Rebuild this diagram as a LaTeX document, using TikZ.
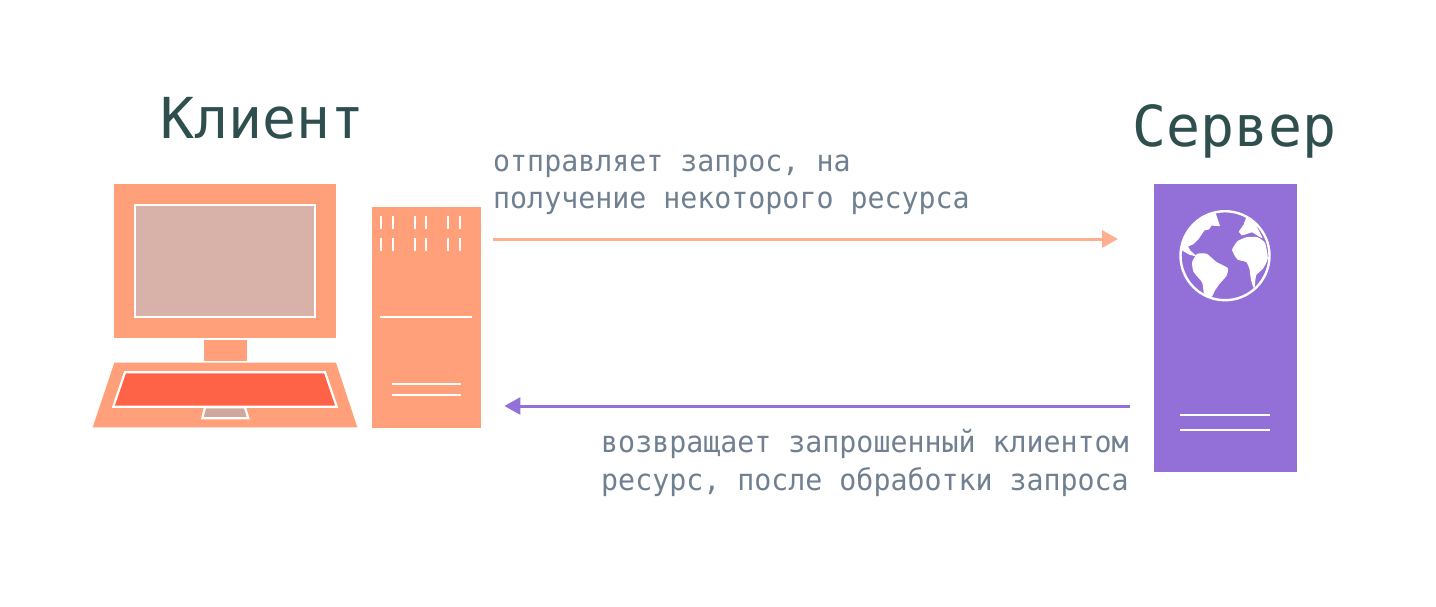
\documentclass[tikz,border=0pt]{standalone}
\usepackage{fontspec}
\setmainfont{DejaVu Sans Mono}
\newfontfamily\capfont[FakeStretch=0.955]{DejaVu Sans Mono}
\newfontfamily\headfont[FakeStretch=1.0]{DejaVu Sans Mono}
\usetikzlibrary{arrows.meta}
\definecolor{coral}{HTML}{FFA07A}
\definecolor{arrowc}{HTML}{FFAE90}
\definecolor{screenc}{HTML}{D8B1A8}
\definecolor{keysc}{HTML}{FF6347}
\definecolor{padc}{HTML}{CFA79D}
\definecolor{violet}{HTML}{9370D8}
\definecolor{label}{HTML}{708090}
\definecolor{head}{HTML}{2F4F4F}
\tikzset{
  x=1pt,y=-1pt,
  coralbox/.style={fill=coral,draw=none,rectangle,inner sep=0pt,anchor=north west},
  violetbox/.style={fill=violet,draw=none,rectangle,inner sep=0pt,anchor=north west},
  wline/.style={draw=white,line width=2.3pt},
  wedge/.style={draw=white,line width=2.2pt,line join=miter},
  heading/.style={text=head,inner sep=0pt,anchor=base west,font=\headfont\fontsize{56.5}{60}\selectfont},
  caption/.style={text=label,inner sep=0pt,font=\capfont\fontsize{29.6}{34}\selectfont},
  conn/.style={line width=3pt,-{Triangle[length=16pt,width=17pt]}},
  land/.style={fill=white,draw=white,line width=1pt,line join=round},
}
\begin{document}
\begin{tikzpicture}
\useasboundingbox (0,0) rectangle (1436,606);
% client monitor
\node[coralbox,minimum width=221.4pt,minimum height=154pt] (monitor) at (114,184) {};
\draw[wedge,fill=screenc] (135,205) rectangle (315,317.3);
\node[coralbox,minimum width=42.7pt,minimum height=20.3pt] (stand) at (204,340) {};
\fill[coral] (114.3,362.7) -- (336,362.7) -- (357.3,427.3) -- (92.7,427.3) -- cycle;
\draw[wedge,fill=keysc] (125,372.3) -- (325,372.3) -- (336.7,406.7) -- (113.3,406.7) -- cycle;
\draw[wedge,fill=padc] (205,407.3) -- (245,407.3) -- (248.3,418.3) -- (202.3,418.3) -- cycle;
% tower
\node[coralbox,minimum width=109pt,minimum height=220.6pt] (tower) at (371.7,206.7) {};
\foreach \xx in {381.3,392.7,415,426.3,448.3,459.7}{
  \draw[wline] (\xx,215.7) -- (\xx,229);
  \draw[wline] (\xx,238) -- (\xx,251.3);
}
\draw[wline] (380.3,317) -- (471.7,317);
\draw[wline] (391.7,384) -- (460.7,384);
\draw[wline] (391.7,395.3) -- (460.7,395.3);
% server
\node[violetbox,minimum width=143.2pt,minimum height=288pt] (server) at (1153.3,184) {};
\draw[wline] (1180,415) -- (1270,415);
\draw[wline] (1180,430) -- (1270,430);
% globe
\draw[draw=white,line width=2.4pt] (1225,255.7) circle[radius=44.5];
\begin{scope}[shift={(1140,175)},x=0.3333pt,y=-0.3333pt]
\draw[land] plot[smooth cycle,tension=.3] coordinates {(158,262) (172,238) (200,238) (228,262) (262,280) (258,302) (238,325) (224,345) (214,364) (194,358) (188,322) (162,290)};
\draw[land] plot[smooth cycle,tension=.3] coordinates {(278,225) (293,200) (320,188) (352,188) (374,205) (382,250) (368,280) (347,300) (342,337) (334,312) (330,282) (320,260) (293,252)};
\draw[land] (124,225) -- (133,188) -- (158,150) -- (188,124) -- (226,116) -- (238,152) -- (214,150) -- (206,162) -- (192,165) -- (174,192) -- (160,206) -- (142,214) -- (150,228) -- (166,242) -- (150,238) -- (132,228) -- cycle;
\draw[land] (298,170) -- (312,150) -- (320,128) -- (346,150) -- (366,188) -- (336,170) -- (306,180) -- cycle;
\end{scope}
% headings
\node[heading] (client) at (160,138) {Клиент};
\node[heading] (srvname) at (1132,146.5) {Сервер};
% captions
\node[caption,anchor=base west] (req1) at (493,171.5) {отправляет запрос, на};
\node[caption,anchor=base west] (req2) at (493,208.5) {получение некоторого ресурса};
\node[caption,anchor=base east] (res1) at (1129,452.5) {возвращает запрошенный клиентом};
\node[caption,anchor=base east] (res2) at (1129,490) {ресурс, после обработки запроса};
% connectors
\coordinate (reqstart) at (tower.east |- 0,239);
\coordinate (reqend) at (server.west |- 0,239);
\coordinate (resstart) at (server.west |- 0,406);
\coordinate (resend) at (tower.east |- 0,406);
\draw[conn,arrowc,shorten <=12.3pt,shorten >=35.3pt] (reqstart) -- (reqend);
\draw[conn,violet,shorten <=23.3pt,shorten >=23.3pt] (resstart) -- (resend);
\end{tikzpicture}
\end{document}
